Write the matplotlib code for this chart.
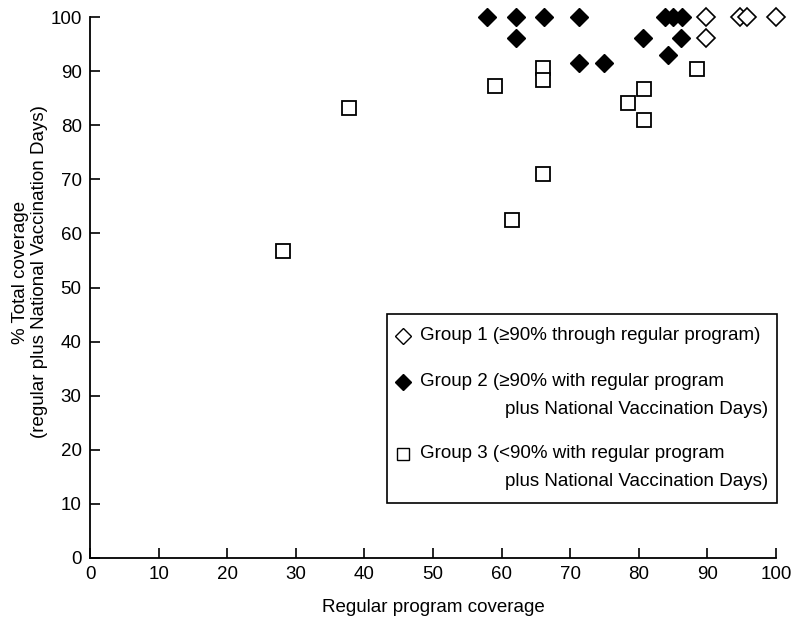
import matplotlib.pyplot as plt
from matplotlib.patches import Rectangle

# Group 1: >=90% through regular program
g1_x = [89.8, 94.8, 95.8, 100.0, 89.8]
g1_y = [100.0, 100.0, 100.0, 100.0, 96.1]

# Group 2: >=90% with regular program plus NVDs
g2_x = [57.9, 62.1, 66.2, 71.3, 83.8, 85.0, 86.3, 62.1, 80.6, 86.1, 84.3, 71.3, 74.9]
g2_y = [100.0, 100.0, 100.0, 100.0, 100.0, 100.0, 100.0, 96.1, 96.1, 96.1, 93.0, 91.5, 91.5]

# Group 3: <90% with regular program plus NVDs
g3_x = [28.1, 37.8, 59.0, 61.5, 66.0, 66.0, 66.0, 78.4, 80.8, 80.8, 88.5]
g3_y = [56.7, 83.1, 87.3, 62.5, 90.6, 88.4, 71.0, 84.1, 86.7, 81.0, 90.4]

ticks = list(range(0, 101, 10))

plt.rcParams['font.family'] = ['Liberation Sans', 'DejaVu Sans']

fig = plt.figure(figsize=(7.96, 6.23), dpi=100)
ax = fig.add_axes([90 / 796, 65 / 623, 686 / 796, 541 / 623])

ax.plot(g3_x, g3_y, 's', ms=10, mfc='white', mec='black', mew=1.3, clip_on=False, zorder=3)
ax.plot(g2_x, g2_y, 'D', ms=9.5, mfc='black', mec='black', mew=1, clip_on=False, zorder=3)
ax.plot(g1_x, g1_y, 'D', ms=9.5, mfc='white', mec='black', mew=1.2, clip_on=False, zorder=3)

ax.set_xlim(0, 100)
ax.set_ylim(0, 100)
ax.set_xticks(ticks)
ax.set_yticks(ticks)
ax.tick_params(direction='in', length=7, width=1.2, labelsize=13.5, pad=6)
for s in ['top', 'right']:
    ax.spines[s].set_visible(False)
for s in ['left', 'bottom']:
    ax.spines[s].set_linewidth(1.3)


# figure pixel coords -> fraction
def fx(px):
    return px / 796


def fy(py):
    return 1 - py / 623


fig.text(fx(433), fy(607), 'Regular program coverage', fontsize=13.5, ha='center', va='center')
fig.text(fx(30), fy(272), '% Total coverage\n(regular plus National Vaccination Days)',
         fontsize=13.5, ha='center', va='center', rotation=90, linespacing=1.15)

# legend box drawn by hand
fig.patches.append(Rectangle((fx(387), fy(503)), fx(777) - fx(387), fy(314) - fy(503),
                             transform=fig.transFigure, fill=False, ec='black', lw=1.2))

entries = [
    ('D', 'white', 336, 'Group 1 (\u226590% through regular program)', None),
    ('D', 'black', 382, 'Group 2 (\u226590% with regular program', 'plus National Vaccination Days)'),
    ('s', 'white', 454, 'Group 3 (<90% with regular program', 'plus National Vaccination Days)'),
]
for mk, fc, py, line1, line2 in entries:
    ms = 8 if mk == 'D' else 9
    fig.add_artist(plt.Line2D([fx(403)], [fy(py)], marker=mk, ms=ms, mfc=fc, mec='black', mew=1,
                              transform=fig.transFigure))
    fig.text(fx(420), fy(py), line1, fontsize=13.5, va='center', ha='left')
    if line2:
        fig.text(fx(505), fy(py + 27), line2, fontsize=13.5, va='center', ha='left')

fig.savefig('out.png', dpi=100)
